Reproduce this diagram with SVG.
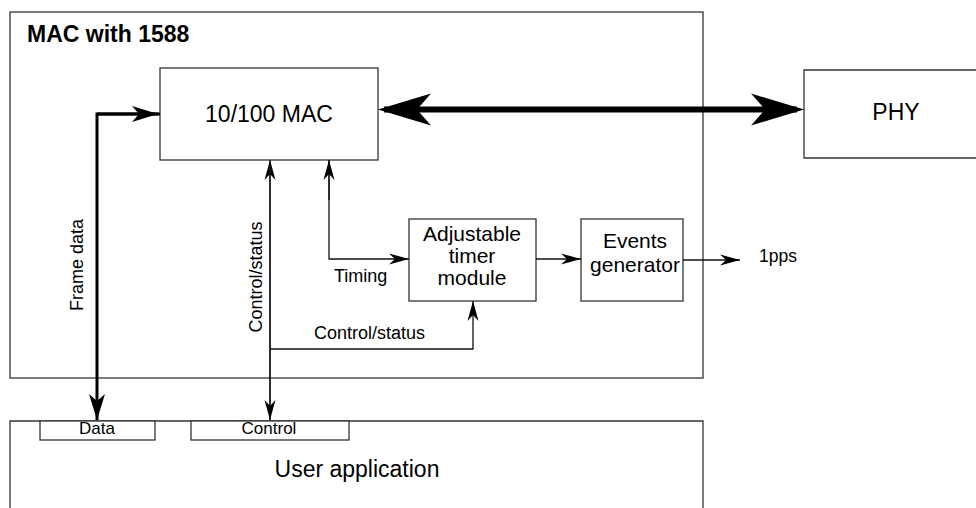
<svg xmlns="http://www.w3.org/2000/svg" width="976" height="508" viewBox="0 0 976 508">
<style>
.box{fill:#fff;stroke:#333;stroke-width:1.3}
.frame{fill:none;stroke:#333;stroke-width:1.3}
.t{font-family:"Liberation Sans",Arial,Helvetica,sans-serif;fill:#000}
.c{text-anchor:middle}
.ln{fill:none;stroke:#111;stroke-width:1.3}
.thick{fill:none;stroke:#000;stroke-width:3}
.big{fill:none;stroke:#000;stroke-width:6}
</style>
<defs>
<marker id="a" viewBox="-21 -7 22 14" refX="0" refY="0" markerWidth="22" markerHeight="14" orient="auto" markerUnits="userSpaceOnUse">
<path d="M0,0 L-20,-5.5 L-14,0 L-20,5.5 Z" fill="#000"/>
</marker>
<marker id="m" viewBox="-28 -9 29 18" refX="0" refY="0" markerWidth="29" markerHeight="18" orient="auto" markerUnits="userSpaceOnUse">
<path d="M0,0 L-26,-8 L-19,0 L-26,8 Z" fill="#000"/>
</marker>
<marker id="b" viewBox="-55 -17 56 34" refX="0" refY="0" markerWidth="56" markerHeight="34" orient="auto" markerUnits="userSpaceOnUse">
<path d="M0,0 L-53,-16 L-38,0 L-53,16 Z" fill="#000"/>
</marker>
</defs>

<g id="mac1588">
<rect class="frame" x="10" y="12" width="693" height="366"/>
<text class="t" x="27" y="42" font-size="23" font-weight="bold">MAC with 1588</text>
</g>

<g id="userapp">
<path class="frame" d="M10,515 L10,421 L703,421 L703,515"/>
<text class="t c" x="357" y="477" font-size="23">User application</text>
</g>

<g id="datatab">
<rect class="box" x="40" y="421" width="115" height="19"/>
<text class="t c" x="97" y="434" font-size="17">Data</text>
</g>

<g id="controltab">
<rect class="box" x="191" y="421" width="158" height="19"/>
<text class="t c" x="269" y="434" font-size="17">Control</text>
</g>

<g id="mac">
<rect class="box" x="160" y="68" width="218" height="92"/>
<text class="t c" x="269" y="122" font-size="23">10/100 MAC</text>
</g>

<g id="phy">
<path class="frame" d="M985,70 L804,70 L804,158 L985,158"/>
<text class="t c" x="896" y="120" font-size="23">PHY</text>
</g>

<g id="timer">
<rect class="box" x="409" y="219" width="127" height="82"/>
<text class="t c" x="472" y="241" font-size="21">Adjustable</text>
<text class="t c" x="472" y="263" font-size="21">timer</text>
<text class="t c" x="472" y="285" font-size="21">module</text>
</g>

<g id="events">
<rect class="box" x="581" y="219" width="102" height="82"/>
<text class="t c" x="635" y="248" font-size="21">Events</text>
<text class="t c" x="635" y="272" font-size="21">generator</text>
</g>

<g id="connectors">
<line class="big" x1="384" y1="109.5" x2="797" y2="109.5"/>
<path d="M378,109.5 L431,93.5 L417,109.5 L431,125.5 Z" fill="#000"/>
<path d="M804,109.5 L751,93.5 L765,109.5 L751,125.5 Z" fill="#000"/>
<path class="thick" d="M160,114 L97,114 L97,420" marker-end="url(#m)"/>
<path class="thick" d="M97,114 L158,114" marker-end="url(#m)"/>
<line class="ln" x1="270" y1="420" x2="270" y2="160" marker-end="url(#a)"/>
<line class="ln" x1="270" y1="165" x2="270" y2="420" marker-end="url(#a)"/>
<path class="ln" d="M329,160 L329,259 L409,259" marker-end="url(#a)"/>
<line class="ln" x1="329" y1="200" x2="329" y2="160" marker-end="url(#a)"/>
<path class="ln" d="M270,349 L473,349 L473,301" marker-end="url(#a)"/>
<line class="ln" x1="536" y1="259" x2="581" y2="259" marker-end="url(#a)"/>
<line class="ln" x1="683" y1="260" x2="740" y2="260" marker-end="url(#a)"/>
<text class="t" x="334" y="282" font-size="18">Timing</text>
<text class="t" x="314" y="339" font-size="18">Control/status</text>
<text class="t" x="759" y="262" font-size="17.5">1pps</text>
<text class="t c" transform="translate(262,277) rotate(-90)" font-size="18">Control/status</text>
<text class="t c" transform="translate(83,265) rotate(-90)" font-size="18">Frame data</text>
</g>
</svg>
